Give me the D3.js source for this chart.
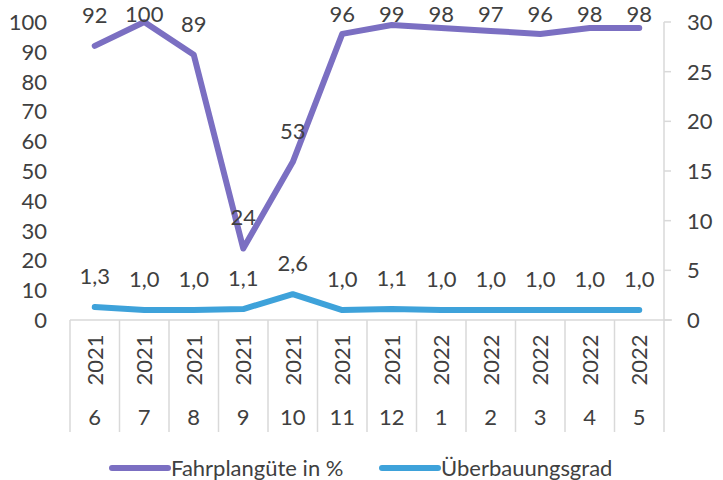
<html><head>
<script src="https://d3js.org/d3.v7.min.js"></script>
<style>
  body { margin: 0; background: #fff; }
  text { font-family: Lato, "Open Sans", sans-serif; fill: #404040; }
</style>
</head>
<body>
<svg id="chart" width="723" height="480"></svg>
<script>
// data
const years = ["2021","2021","2021","2021","2021","2021","2021","2022","2022","2022","2022","2022"];
const months = ["6","7","8","9","10","11","12","1","2","3","4","5"];
const fahrplan = [92, 100, 89, 24, 53, 96, 99, 98, 97, 96, 98, 98];
const ueberbau = [1.3, 1.0, 1.0, 1.1, 2.6, 1.0, 1.1, 1.0, 1.0, 1.0, 1.0, 1.0];
const leftTicks = [0,10,20,30,40,50,60,70,80,90,100];
const rightTicks = [0,5,10,15,20,25,30];

const svg = d3.select("#chart");
const purple = "#7b6fc2", blue = "#3ea2da", grid = "#d9d9d9";
const fs = 22;

const x = d3.scaleBand().domain(d3.range(12)).range([70, 664]);
const yL = d3.scaleLinear().domain([0, 100]).range([320, 22]);
const yR = d3.scaleLinear().domain([0, 30]).range([320, 22]);

const de = d3.formatLocale({decimal: ",", thousands: ".", grouping: [3], currency: ["", "€"]});
const f1 = de.format(".1f");

// left axis labels (no line)
svg.append("g").selectAll("text").data(leftTicks).join("text")
   .attr("x", 47).attr("y", d => yL(d)).attr("dy", "0.36em")
   .attr("text-anchor", "end").style("font-size", fs + "px").text(d => d);

// right axis
let rAxis = svg.append("g");
rAxis.append("line").attr("x1", 664).attr("x2", 664).attr("y1", yR(30)).attr("y2", yR(0))
     .attr("stroke", grid).attr("stroke-width", 1.5);
rAxis.selectAll("line.t").data(rightTicks).join("line").attr("class", "t")
     .attr("x1", 664).attr("x2", 671).attr("y1", d => yR(d)).attr("y2", d => yR(d))
     .attr("stroke", grid).attr("stroke-width", 1.5);
rAxis.selectAll("text").data(rightTicks).join("text")
     .attr("x", 687).attr("y", d => yR(d)).attr("dy", "0.36em")
     .style("font-size", fs + "px").text(d => d);

// category axis (two levels)
svg.append("line").attr("x1", 70).attr("x2", 672).attr("y1", 320).attr("y2", 320)
   .attr("stroke", grid).attr("stroke-width", 1.5);
svg.append("g").selectAll("line").data(d3.range(13)).join("line")
   .attr("x1", d => 70 + d * x.step()).attr("x2", d => 70 + d * x.step())
   .attr("y1", 320).attr("y2", 432)
   .attr("stroke", grid).attr("stroke-width", 1.5);
svg.append("g").selectAll("text").data(years).join("text")
   .attr("transform", (d, i) => "translate(" + (x(i) + x.bandwidth() / 2) + ",360) rotate(-90)")
   .attr("text-anchor", "middle").attr("dy", "0.36em")
   .style("font-size", fs + "px").text(d => d);
svg.append("g").selectAll("text").data(months).join("text")
   .attr("x", (d, i) => x(i) + x.bandwidth() / 2).attr("y", 417).attr("dy", "0.36em")
   .attr("text-anchor", "middle").style("font-size", fs + "px").text(d => d);

const cx = i => x(i) + x.bandwidth() / 2;

// lines
svg.append("path").datum(ueberbau)
   .attr("d", d3.line().x((d, i) => cx(i)).y(d => yR(d)))
   .attr("fill", "none").attr("stroke", blue).attr("stroke-width", 6)
   .attr("stroke-linecap", "round").attr("stroke-linejoin", "round");
svg.append("path").datum(fahrplan)
   .attr("d", d3.line().x((d, i) => cx(i)).y(d => yL(d)))
   .attr("fill", "none").attr("stroke", purple).attr("stroke-width", 6)
   .attr("stroke-linecap", "round").attr("stroke-linejoin", "round");

// data labels (kept inside the top edge, like the original)
svg.append("g").selectAll("text").data(fahrplan).join("text")
   .attr("x", (d, i) => cx(i)).attr("y", d => Math.max(yL(d) - 31, 14)).attr("dy", "0.36em")
   .attr("text-anchor", "middle").style("font-size", fs + "px").text(d => d);
svg.append("g").selectAll("text").data(ueberbau).join("text")
   .attr("x", (d, i) => cx(i)).attr("y", d => yR(d) - 31).attr("dy", "0.36em")
   .attr("text-anchor", "middle").style("font-size", fs + "px").text(d => f1(d));

// legend
const legend = [["Fahrplangüte in %", purple, 112], ["Überbauungsgrad", blue, 382]];
legend.forEach(l => {
  svg.append("line").attr("x1", l[2]).attr("x2", l[2] + 56).attr("y1", 468).attr("y2", 468)
     .attr("stroke", l[1]).attr("stroke-width", 6).attr("stroke-linecap", "round");
  svg.append("text").attr("x", l[2] + 59).attr("y", 468).attr("dy", "0.36em")
     .style("font-size", fs + "px").text(l[0]);
});
</script>
</body>
</html>
